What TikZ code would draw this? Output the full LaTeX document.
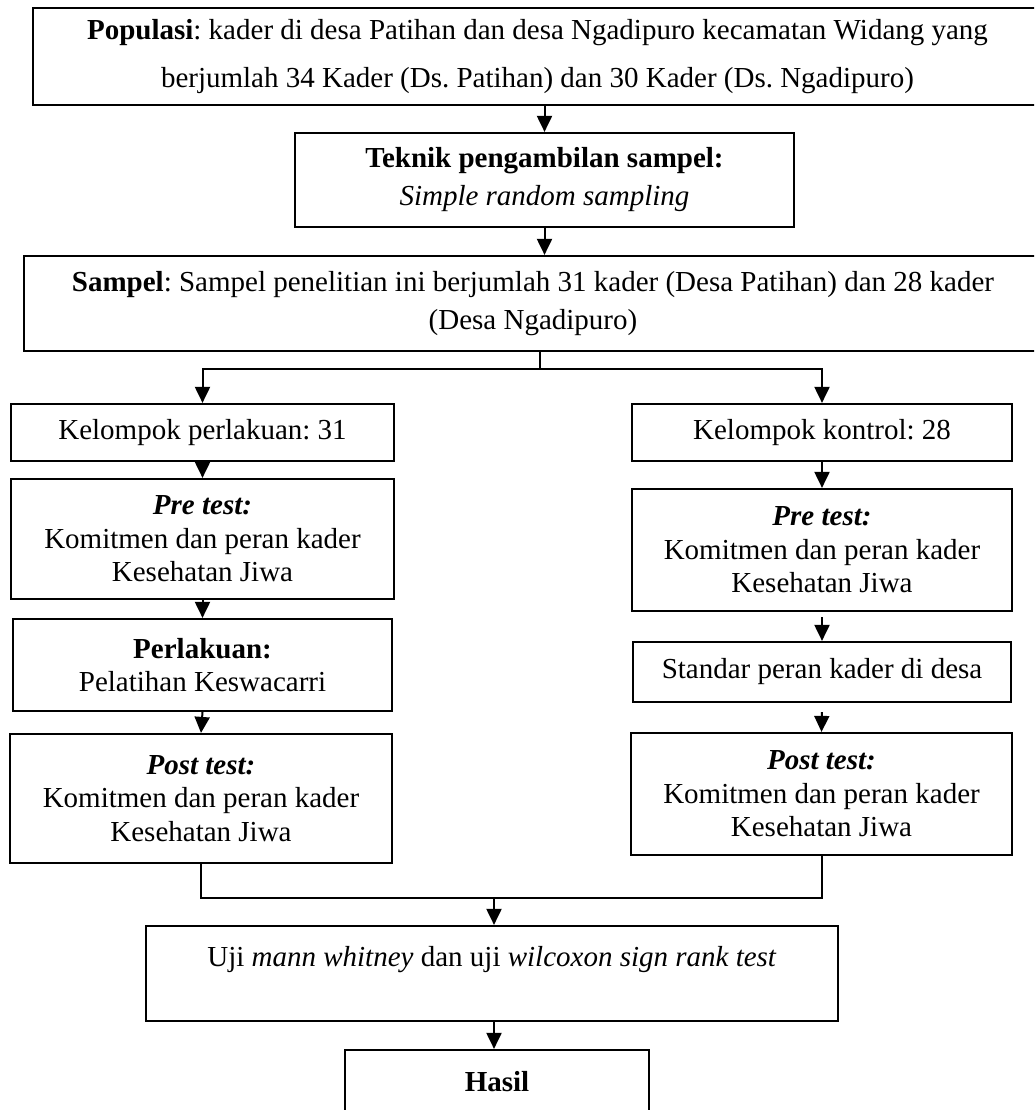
\documentclass[tikz,border=0pt]{standalone}
\usepackage{fontspec}
\setmainfont{Liberation Serif}
\usetikzlibrary{arrows.meta}
\frenchspacing
\newcommand\fsA{\fontsize{29}{33.5}\selectfont}
\newcommand\fsB{\fontsize{29}{48}\selectfont}
\newcommand\fsC{\fontsize{29}{38}\selectfont}
\begin{document}
\begin{tikzpicture}[x=1pt,y=-1pt,
  box/.style={draw, line width=2.2pt, inner sep=2pt, align=center, font=\fsA},
  arr/.style={line width=2pt, -{Triangle[width=15pt,length=16pt]}},
  conn/.style={line width=2pt}]
\useasboundingbox (0,0) rectangle (1034,1110);
\clip (0,0) rectangle (1034,1110);
\fill[white] (0,0) rectangle (1034,1110);
% top part
\node[box, font=\fsB, minimum width=1009pt, minimum height=97pt] (pop) at (537.5,56.5)
  {\textbf{Populasi}: kader di desa Patihan dan desa Ngadipuro kecamatan Widang yang\\
   berjumlah 34 Kader (Ds. Patihan) dan 30 Kader (Ds. Ngadipuro)};
\node[box, font=\fsC, minimum width=499pt, minimum height=94pt] (tek) at (544.5,180)
  {\textbf{Teknik pengambilan sampel:}\\ \textit{Simple random sampling}};
\node[box, font=\fsC, minimum width=1018pt, minimum height=95pt] (sam) at (533,303.5)
  {\textbf{Sampel}: Sampel penelitian ini berjumlah 31 kader (Desa Patihan) dan 28 kader\\ (Desa Ngadipuro)};
% left column
\node[box, minimum width=383pt, minimum height=57pt] (kp) at (202.5,432.5) {Kelompok perlakuan: 31};
\node[box, minimum width=383pt, minimum height=120pt] (pre1) at (202.5,539)
  {\textbf{\textit{Pre test:}}\\ Komitmen dan peran kader\\ Kesehatan Jiwa};
\node[box, minimum width=379pt, minimum height=92pt] (perl) at (202.5,665)
  {\textbf{Perlakuan:}\\ Pelatihan Keswacarri};
\node[box, minimum width=382pt, minimum height=129pt] (post1) at (201,798.5)
  {\textbf{\textit{Post test:}}\\ Komitmen dan peran kader\\ Kesehatan Jiwa};
% right column
\node[box, minimum width=380pt, minimum height=57pt] (kk) at (822,432.5) {Kelompok kontrol: 28};
\node[box, minimum width=380pt, minimum height=122pt] (pre2) at (822,550)
  {\textbf{\textit{Pre test:}}\\ Komitmen dan peran kader\\ Kesehatan Jiwa};
\node[box, minimum width=378pt, minimum height=60pt] (std) at (822,672) {Standar peran kader di desa};
\node[box, minimum width=381pt, minimum height=122pt] (post2) at (821.5,794)
  {\textbf{\textit{Post test:}}\\ Komitmen dan peran kader\\ Kesehatan Jiwa};
% bottom
\node[box, minimum width=692pt, minimum height=95pt] (uji) at (492,973.5)
  {Uji \textit{mann whitney} dan uji \textit{wilcoxon sign rank test}\\ \mbox{}};
\node[box, minimum width=304pt, minimum height=64pt] (hasil) at (497,1082) {\textbf{Hasil}};
% connectors
\draw[arr] (tek.north |- pop.south) -- (tek.north);
\draw[arr] (tek.south) -- (tek.south |- sam.north);
\coordinate (j1) at (540,369);
\draw[conn] (sam.south -| j1) -- (j1);
\draw[arr] (j1) -| (kp.north);
\draw[arr] (j1) -| (kk.north);
\draw[arr] (kp.south) -- (pre1.north);
\draw[arr] (pre1.south) -- (perl.north);
\draw[arr] (perl.south) -- (post1.north);
\draw[arr] (kk.south) -- (pre2.north);
\draw[arr, shorten <=5pt] (pre2.south) -- (std.north);
\draw[arr, shorten <=9pt] (std.south) -- (post2.north);
\coordinate (j2) at (494,898);
\draw[conn] (post1.south) |- (j2) -| (post2.south);
\draw[arr] (j2) -- (j2 |- uji.north);
\draw[arr] (uji.south -| j2) -- (hasil.north -| j2);
\end{tikzpicture}
\end{document}
